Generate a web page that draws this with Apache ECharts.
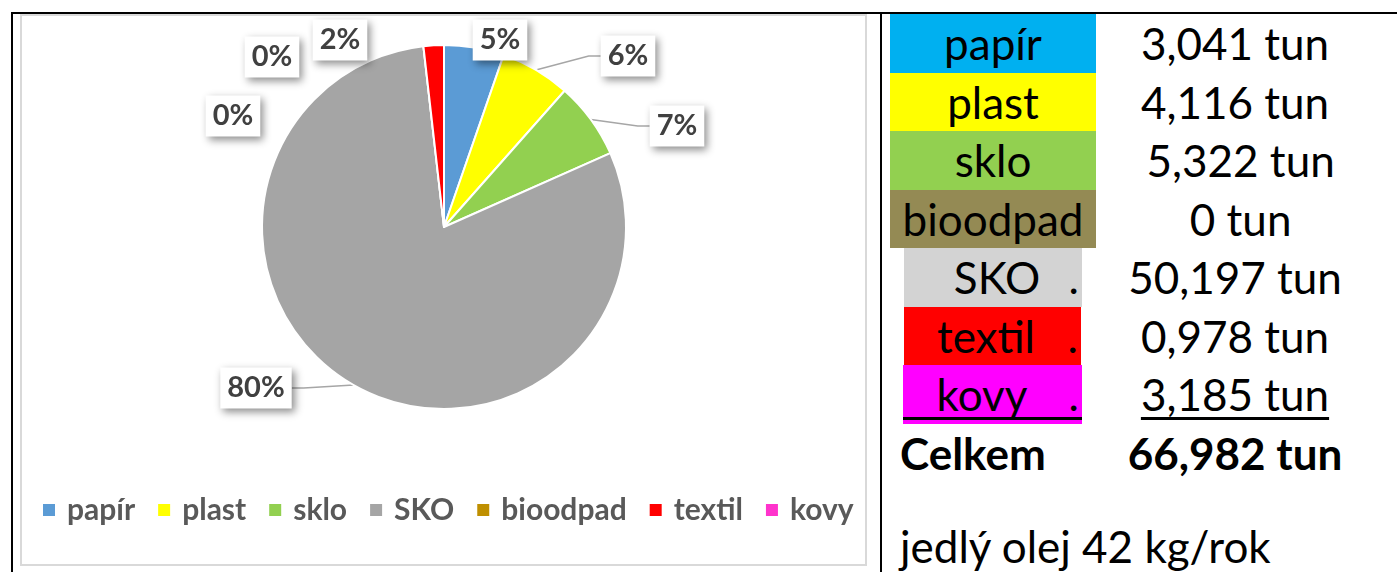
<!DOCTYPE html>
<html>
<head>
<meta charset="utf-8">
<script src="https://cdn.jsdelivr.net/npm/echarts@6/dist/echarts.min.js"></script>
<style>
html,body{margin:0;padding:0;background:#fff;}
body{width:1397px;height:572px;overflow:hidden;position:relative;font-family:Lato,"Noto Sans",sans-serif;}
.bl{position:absolute;background:#000;}
#chartBox{position:absolute;left:20px;top:14px;width:843px;height:548px;border:2px solid #d9d9d9;}
#chart{width:843px;height:548px;}
.cell{position:absolute;height:58.5px;line-height:58.5px;font-size:44px;color:#000;white-space:pre;text-align:center;}
.lbl{position:absolute;top:0;text-align:center;}
.dot{position:absolute;top:0;right:3px;}
</style>
</head>
<body>
<div class="bl" style="left:11px;top:12px;width:1386px;height:2px"></div>
<div class="bl" style="left:11px;top:12px;width:2px;height:560px"></div>
<div class="bl" style="left:880px;top:12px;width:2px;height:560px"></div>
<div id="chartBox"><div id="chart"></div></div>
<div id="table"></div>
<script>
// ---- chart data ----
const categories = ['papír', 'plast', 'sklo', 'SKO', 'bioodpad', 'textil', 'kovy'];
const pieShares = [5.3, 6.2, 6.8, 79.6, 0, 1.8, 0];
const pieColors = ['#5B9BD5', '#FFFF00', '#92D050', '#A5A5A5', '#BF8F00', '#FF0000', '#FF33CC'];

// ---- table data ----
const tableLabels = ['papír', 'plast', 'sklo', 'bioodpad', 'SKO', 'textil', 'kovy'];
const tableValues = ['3,041 tun', '4,116 tun', ' 5,322 tun', ' 0 tun', '50,197 tun', '0,978 tun', '3,185 tun'];
const totalLabel = 'Celkem';
const totalValue = '66,982 tun';
const noteText = 'jedlý olej 42 kg/rok';

// ---- table layout / styles ----
const cellStyle = {
  'papír':    {bg: '#00B0F0', left: 890, width: 206, lblW: 206, dot: false},
  'plast':    {bg: '#FFFF00', left: 890, width: 206, lblW: 206, dot: false},
  'sklo':     {bg: '#92D050', left: 890, width: 206, lblW: 206, dot: false},
  'bioodpad': {bg: '#948A54', left: 890, width: 206, lblW: 206, dot: false},
  'SKO':      {bg: '#D3D3D3', left: 904, width: 178, lblW: 186, dot: true},
  'textil':   {bg: '#FF0000', left: 904, width: 177, lblW: 164, dot: true},
  'kovy':     {bg: '#FF00FF', left: 903, width: 179, lblW: 158, dot: true, under: true}
};
const rowTop0 = 14, rowH = 58.5;
const table = document.getElementById('table');
tableLabels.forEach((name, i) => {
  const s = cellStyle[name];
  const top = rowTop0 + i * rowH;
  const c = document.createElement('div');
  c.className = 'cell';
  c.style.cssText = `left:${s.left}px;top:${top}px;width:${s.width}px;background:${s.bg};` + (s.under ? 'height:59px;' : '');
  const l = document.createElement('span');
  l.className = 'lbl';
  l.style.cssText = `left:0;width:${s.lblW}px;`;
  l.textContent = name;
  c.appendChild(l);
  if (s.dot) {
    const d = document.createElement('span');
    d.className = 'dot';
    d.textContent = '.';
    c.appendChild(d);
  }
  if (s.under) {
    const u = document.createElement('div');
    u.style.cssText = 'position:absolute;left:0;right:0;top:52px;height:3px;background:#000;';
    c.appendChild(u);
  }
  table.appendChild(c);
  const v = document.createElement('div');
  v.className = 'cell';
  v.style.cssText = `left:1085px;top:${top}px;width:300px;`;
  if (s.under) {
    const sp = document.createElement('span');
    sp.style.cssText = 'text-decoration:underline;text-decoration-thickness:3px;text-underline-offset:6px;';
    sp.textContent = tableValues[i];
    v.appendChild(sp);
  } else {
    v.textContent = tableValues[i];
  }
  table.appendChild(v);
});
const totTop = rowTop0 + tableLabels.length * rowH;
const tl = document.createElement('div');
tl.className = 'cell';
tl.style.cssText = `left:900px;top:${totTop}px;font-weight:bold;text-align:left;`;
tl.textContent = totalLabel;
table.appendChild(tl);
const tv = document.createElement('div');
tv.className = 'cell';
tv.style.cssText = `left:1085px;top:${totTop}px;width:300px;font-weight:bold;`;
tv.textContent = totalValue;
table.appendChild(tv);
const nt = document.createElement('div');
nt.className = 'cell';
nt.style.cssText = `left:900px;top:517px;text-align:left;`;
nt.textContent = noteText;
table.appendChild(nt);

// ---- chart ----
const labelCenters = {
  'papír': [478, 24], 'plast': [606, 40], 'sklo': [655, 110], 'SKO': [234, 372],
  'bioodpad': [211, 100], 'textil': [318, 24], 'kovy': [250, 41]
};
const withLine = ['plast', 'sklo', 'SKO'];

const chart = echarts.init(document.getElementById('chart'), null, {renderer: 'canvas'});
chart.setOption({
  animation: false,
  color: pieColors,
  legend: {
    data: categories,
    top: 474,
    left: 14,
    icon: 'rect',
    itemWidth: 14,
    itemHeight: 14,
    itemGap: 21,
    selectedMode: false,
    textStyle: {fontFamily: 'Lato', fontWeight: 'bold', fontSize: 30, color: '#595959', padding: [0, 0, 0, 6]}
  },
  series: [{
    type: 'pie',
    center: [422, 211],
    radius: 182,
    startAngle: 90,
    clockwise: true,
    avoidLabelOverlap: false,
    itemStyle: {borderColor: '#fff', borderWidth: 2},
    emphasis: {disabled: true},
    label: {
      show: true,
      position: 'outside',
      formatter: p => Math.round(p.percent) + '%',
      fontFamily: 'Lato', fontWeight: 'bold', fontSize: 29, color: '#404040',
      backgroundColor: '#fff', padding: [6, 7, 6, 7],
      shadowBlur: 8, shadowColor: 'rgba(0,0,0,0.45)', shadowOffsetX: 3, shadowOffsetY: 3
    },
    labelLine: {show: true, length: 10, length2: 12, lineStyle: {color: '#A6A6A6', width: 1.5}},
    labelLayout: function (params) {
      const name = categories[params.dataIndex];
      const p = labelCenters[name];
      return {x: p[0], y: p[1], align: 'center', verticalAlign: 'middle'};
    },
    data: categories.map((n, i) => ({
      name: n,
      value: pieShares[i],
      labelLine: {show: withLine.indexOf(n) >= 0}
    }))
  }]
});
</script>
</body>
</html>
